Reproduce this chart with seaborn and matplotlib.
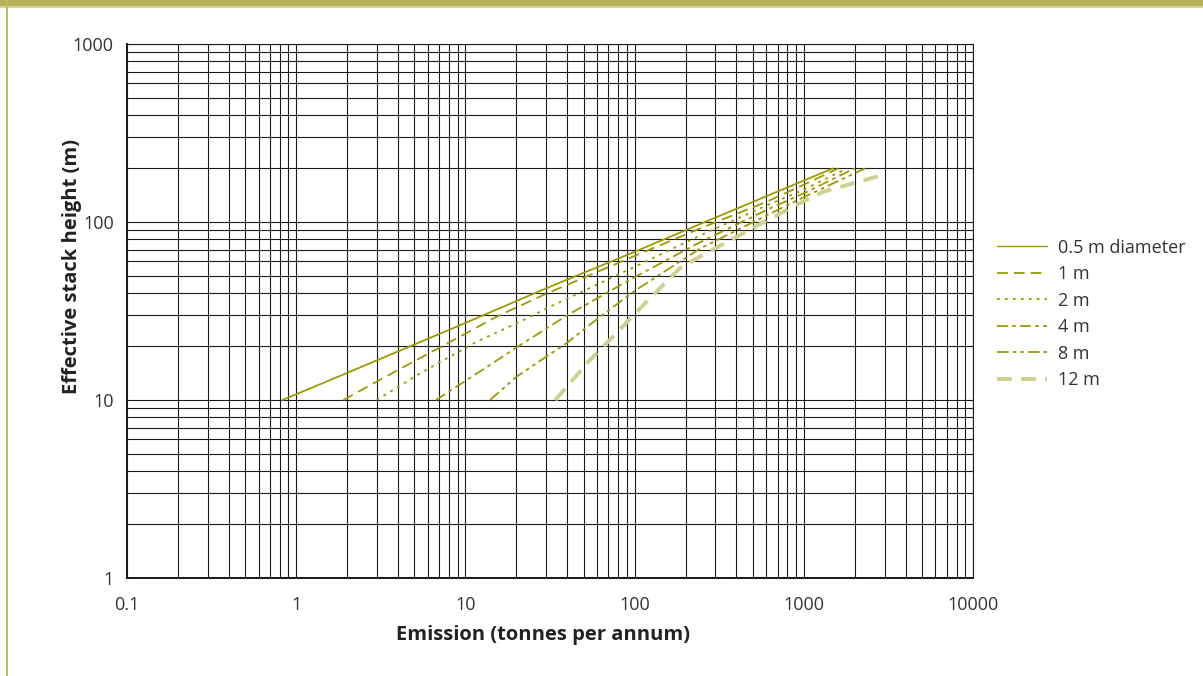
import numpy as np
import pandas as pd
import matplotlib
matplotlib.use("Agg")
import matplotlib.pyplot as plt
from matplotlib.lines import Line2D
from matplotlib.patches import Rectangle
from matplotlib.ticker import LogLocator, FixedLocator, FixedFormatter, NullFormatter
import seaborn as sns

# Effective stack height curves by stack diameter
series_names = ["0.5 m diameter", "1 m", "2 m", "4 m", "8 m", "12 m"]

emission_05 = [0.83, 3.0, 10.0, 30.0, 100.0, 300.0, 1000.0, 1485.0]
height_05 = [10.0, 16.7, 27.1, 42.4, 68.0, 105.8, 171.0, 200.0]

emission_1 = [1.9, 2.86, 4.92, 8.88, 15.3, 28.9, 100.0, 244.0, 604.0, 1000.0, 1600.0]
height_1 = [10.0, 12.4, 16.4, 22.2, 29.4, 38.9, 64.5, 92.0, 130.0, 162.0, 200.0]

emission_2 = [2.99, 5.39, 11.7, 22.0, 30.2, 100.0, 244.0, 604.0, 1000.0, 1800.0]
height_2 = [10.0, 14.1, 21.3, 28.1, 32.7, 56.0, 84.0, 124.0, 152.0, 200.0]

emission_4 = [6.7, 11.7, 21.0, 39.7, 100.0, 244.0, 604.0, 1000.0, 2000.0]
height_4 = [10.0, 14.1, 20.3, 29.8, 49.0, 77.0, 117.0, 145.0, 200.0]

emission_8 = [14.0, 20.0, 40.0, 60.0, 100.0, 244.0, 604.0, 1000.0, 2300.0]
height_8 = [10.0, 13.5, 21.0, 28.5, 41.0, 71.0, 109.0, 138.0, 200.0]

emission_12 = [34.0, 54.5, 78.0, 102.0, 185.0, 244.0, 604.0, 1000.0, 1304.0, 3000.0]
height_12 = [10.0, 16.8, 23.7, 31.0, 55.0, 64.0, 102.0, 131.0, 148.0, 185.0]

x_ticks = [0.1, 1, 10, 100, 1000, 10000]
x_tick_labels = ["0.1", "1", "10", "100", "1000", "10000"]
y_ticks = [1, 10, 100, 1000]
y_tick_labels = ["1", "10", "100", "1000"]

all_emission = [emission_05, emission_1, emission_2, emission_4, emission_8, emission_12]
all_height = [height_05, height_1, height_2, height_4, height_8, height_12]

df = pd.concat(
    [pd.DataFrame({"emission": e, "height": h, "series": n})
     for n, e, h in zip(series_names, all_emission, all_height)],
    ignore_index=True,
)

olive = "#9b9b00"
pale = "#cfcf8e"
palette = {n: olive for n in series_names}
palette["12 m"] = pale
dashes = {
    "0.5 m diameter": "",
    "1 m": (6, 3.3),
    "2 m": (1.6, 2.8),
    "4 m": (6, 2.4, 2, 2.4),
    "8 m": (6.5, 2.2, 2, 2.2, 2, 2.2),
    "12 m": (3.8, 2.4),
}
widths = {n: 1.3 for n in series_names}
widths["12 m"] = 2.8

sns.set_theme(style="white")
plt.rcParams["font.family"] = ["Open Sans", "DejaVu Sans"]

fig = plt.figure(figsize=(12.03, 6.76), dpi=100)
ax = fig.add_axes([127 / 1203, 1 - 578 / 676, (973 - 127) / 1203, (578 - 44) / 676])

sns.lineplot(
    data=df, x="emission", y="height", hue="series", style="series", size="series",
    palette=palette, dashes=dashes, sizes=widths, sort=False, estimator=None,
    legend=False, ax=ax, hue_order=series_names, style_order=series_names,
    size_order=series_names,
)

ax.set_xscale("log")
ax.set_yscale("log")
ax.set_xlim(0.1, 10000)
ax.set_ylim(1, 1000)

ax.xaxis.set_major_locator(FixedLocator(x_ticks))
ax.xaxis.set_major_formatter(FixedFormatter(x_tick_labels))
ax.yaxis.set_major_locator(FixedLocator(y_ticks))
ax.yaxis.set_major_formatter(FixedFormatter(y_tick_labels))
ax.xaxis.set_minor_locator(LogLocator(base=10, subs=np.arange(2, 10)))
ax.yaxis.set_minor_locator(LogLocator(base=10, subs=np.arange(2, 10)))
ax.xaxis.set_minor_formatter(NullFormatter())
ax.yaxis.set_minor_formatter(NullFormatter())

ax.grid(True, which="both", color="#1a1a1a", linewidth=0.8)
ax.set_axisbelow(True)
for s in ax.spines.values():
    s.set_color("#1a1a1a")
    s.set_linewidth(0.8)
ax.spines["left"].set_linewidth(1.4)
ax.spines["bottom"].set_linewidth(1.4)

ax.tick_params(axis="both", which="major", direction="out", length=7, width=1.2,
               color="#1a1a1a", labelsize=13, labelcolor="#333333")
ax.tick_params(axis="x", which="major", pad=6)
ax.tick_params(axis="y", which="major", pad=2.5)
ax.tick_params(axis="both", which="minor", length=0)

ax.set_xlabel("Emission (tonnes per annum)", fontsize=14.5, fontweight="bold",
              color="#222222")
ax.set_ylabel("Effective stack height (m)", fontsize=14.5, fontweight="bold",
              color="#222222")
ax.xaxis.set_label_coords(0.492, -0.107)
ax.yaxis.set_label_coords(-0.065, 0.584)
ax.xaxis.label.set_va("center")
ax.yaxis.label.set_va("center")

handles = []
for n in series_names:
    h = Line2D([], [], color=palette[n],
               linewidth=(1.0 if n == "0.5 m diameter" else widths[n]))
    if dashes[n]:
        h.set_dashes(dashes[n])
    handles.append(h)
fig.legend(handles, series_names, loc="upper left", bbox_to_anchor=(0.8155, 0.671),
           frameon=False, fontsize=13, handlelength=2.75, handletextpad=0.62,
           labelspacing=0.47, labelcolor="#333333")

# Decorative page frame
fig.patches.append(Rectangle((0, 1 - 6 / 676), 1, 6 / 676, transform=fig.transFigure,
                             facecolor="#b3b356", edgecolor="none", zorder=10))
fig.patches.append(Rectangle((0, 1 - 7.5 / 676), 1, 1.5 / 676, transform=fig.transFigure,
                             facecolor="#d2d29a", edgecolor="none", zorder=10))
fig.patches.append(Rectangle((6 / 1203, 0), 2.2 / 1203, 1, transform=fig.transFigure,
                             facecolor="#bdbd5c", edgecolor="none", zorder=10))

fig.savefig("out.png", dpi=100)
